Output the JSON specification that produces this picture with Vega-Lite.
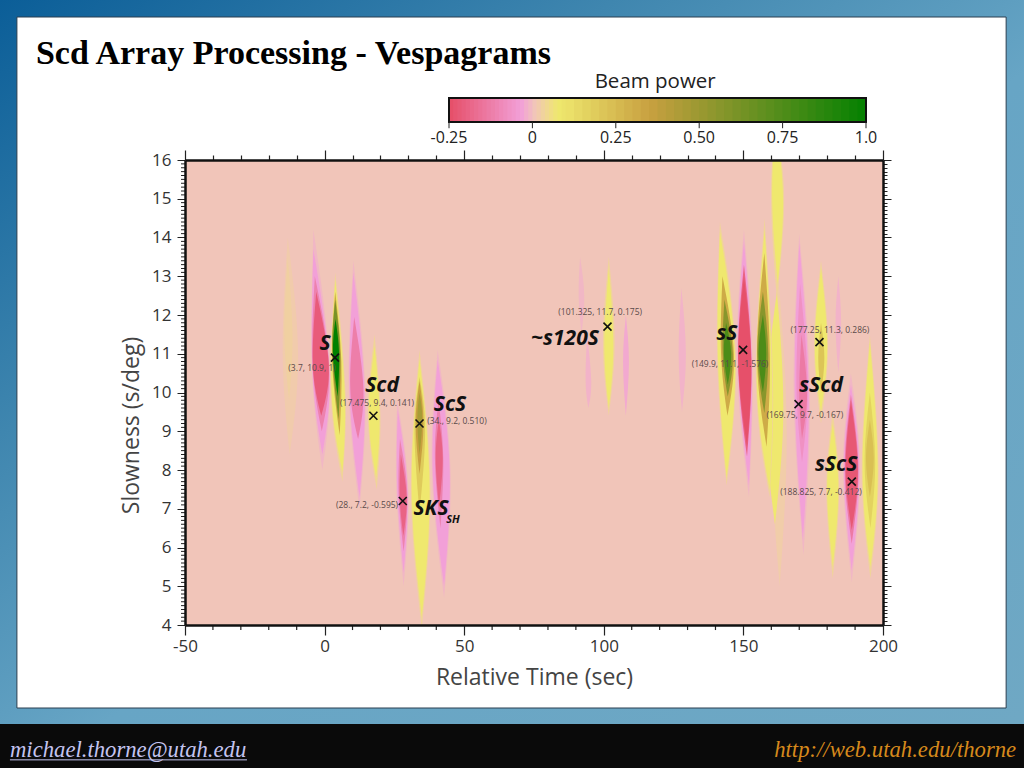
{"$schema":"https://vega.github.io/schema/vega-lite/v6.json","width":698,"height":465,"autosize":{"type":"none"},"padding":{"left":185,"top":160,"right":141,"bottom":143},"background":"#ffffff","config":{"view":{"stroke":null},"axis":{"grid":false}},
"datasets":{
"rings":[
{"ring":"A1","power":0.012,"s":8.4,"t0":-12.5,"t1":-12.5},{"ring":"A1","power":0.012,"s":11,"t0":-15,"t1":-9.5},{"ring":"A1","power":0.012,"s":14,"t0":-13.2,"t1":-13.2},
{"ring":"A2","power":0.022,"s":9.8,"t0":-12.7,"t1":-12.7},{"ring":"A2","power":0.022,"s":11.5,"t0":-14.4,"t1":-11.5},{"ring":"A2","power":0.022,"s":13.5,"t0":-13.2,"t1":-13.2},
{"ring":"S1","power":-0.015,"s":8,"t0":-0.8,"t1":-0.8},{"ring":"S1","power":-0.015,"s":10.6,"t0":-4.5,"t1":1.8},{"ring":"S1","power":-0.015,"s":14.2,"t0":-4,"t1":-4},
{"ring":"S2","power":-0.04,"s":8.4,"t0":-0.8,"t1":-0.8},{"ring":"S2","power":-0.04,"s":10.6,"t0":-4.4,"t1":1.7},{"ring":"S2","power":-0.04,"s":13.7,"t0":-4,"t1":-4},
{"ring":"S3","power":-0.12,"s":9,"t0":-1,"t1":-1},{"ring":"S3","power":-0.12,"s":10.7,"t0":-4.3,"t1":1.6},{"ring":"S3","power":-0.12,"s":13,"t0":-3.5,"t1":-3.5},
{"ring":"S4","power":-0.22,"s":9.4,"t0":-1.2,"t1":-1.2},{"ring":"S4","power":-0.22,"s":10.7,"t0":-4.2,"t1":1.5},{"ring":"S4","power":-0.22,"s":12.6,"t0":-3,"t1":-3},
{"ring":"G1","power":0.03,"s":7.7,"t0":6.4,"t1":6.4},{"ring":"G1","power":0.03,"s":10,"t0":2.2,"t1":7.5},{"ring":"G1","power":0.03,"s":13.1,"t0":3.8,"t1":3.8},
{"ring":"G2","power":0.07,"s":7.95,"t0":6.4,"t1":6.4},{"ring":"G2","power":0.07,"s":10,"t0":2.5,"t1":7.2},{"ring":"G2","power":0.07,"s":12.9,"t0":3.8,"t1":3.8},
{"ring":"G3","power":0.3,"s":8.9,"t0":5.4,"t1":5.4},{"ring":"G3","power":0.3,"s":10.8,"t0":2.7,"t1":6},{"ring":"G3","power":0.3,"s":12.6,"t0":3.8,"t1":3.8},
{"ring":"G4","power":0.6,"s":9.3,"t0":5,"t1":5},{"ring":"G4","power":0.6,"s":11,"t0":2.8,"t1":5.6},{"ring":"G4","power":0.6,"s":12.4,"t0":3.8,"t1":3.8},
{"ring":"G5","power":1,"s":9.9,"t0":4.7,"t1":4.7},{"ring":"G5","power":1,"s":11,"t0":3,"t1":5.2},{"ring":"G5","power":1,"s":11.9,"t0":3.9,"t1":3.9},
{"ring":"P1","power":-0.015,"s":7,"t0":12.5,"t1":12.5},{"ring":"P1","power":-0.015,"s":10,"t0":8.7,"t1":14.6},{"ring":"P1","power":-0.015,"s":13.4,"t0":10.3,"t1":10.3},
{"ring":"P2","power":-0.04,"s":7.3,"t0":12.5,"t1":12.5},{"ring":"P2","power":-0.04,"s":10,"t0":9,"t1":14.3},{"ring":"P2","power":-0.04,"s":13.1,"t0":10.3,"t1":10.3},
{"ring":"P3","power":-0.13,"s":8.8,"t0":12,"t1":12},{"ring":"P3","power":-0.13,"s":10.1,"t0":9.2,"t1":13.9},{"ring":"P3","power":-0.13,"s":11.95,"t0":10.6,"t1":10.6},
{"ring":"Y1","power":0.03,"s":7.5,"t0":18.7,"t1":18.7},{"ring":"Y1","power":0.03,"s":9.4,"t0":15.5,"t1":20},{"ring":"Y1","power":0.03,"s":11.5,"t0":17.9,"t1":17.9},
{"ring":"Y2","power":0.07,"s":7.8,"t0":18.5,"t1":18.5},{"ring":"Y2","power":0.07,"s":9.4,"t0":15.8,"t1":19.7},{"ring":"Y2","power":0.07,"s":11.2,"t0":17.9,"t1":17.9},
{"ring":"K1","power":-0.015,"s":5,"t0":28.3,"t1":28.3},{"ring":"K1","power":-0.015,"s":7.5,"t0":25.7,"t1":30},{"ring":"K1","power":-0.015,"s":9.8,"t0":26,"t1":26},
{"ring":"K2","power":-0.04,"s":5.35,"t0":28.3,"t1":28.3},{"ring":"K2","power":-0.04,"s":7.5,"t0":26,"t1":29.7},{"ring":"K2","power":-0.04,"s":9.55,"t0":26.2,"t1":26.2},
{"ring":"K3","power":-0.12,"s":5.9,"t0":28.3,"t1":28.3},{"ring":"K3","power":-0.12,"s":7.4,"t0":26.5,"t1":29.6},{"ring":"K3","power":-0.12,"s":8.8,"t0":27,"t1":27},
{"ring":"K4","power":-0.2,"s":6.3,"t0":28.2,"t1":28.2},{"ring":"K4","power":-0.2,"s":7.3,"t0":26.9,"t1":29.4},{"ring":"K4","power":-0.2,"s":8.4,"t0":27.3,"t1":27.3},
{"ring":"C1","power":0.03,"s":3.9,"t0":34.8,"t1":34.8},{"ring":"C1","power":0.03,"s":7.5,"t0":30.9,"t1":37.9},{"ring":"C1","power":0.03,"s":11.1,"t0":34,"t1":34},
{"ring":"C2","power":0.07,"s":4.2,"t0":34.8,"t1":34.8},{"ring":"C2","power":0.07,"s":7.5,"t0":31.2,"t1":37.6},{"ring":"C2","power":0.07,"s":10.85,"t0":34,"t1":34},
{"ring":"C3","power":0.18,"s":6.9,"t0":34,"t1":34},{"ring":"C3","power":0.18,"s":9,"t0":32.2,"t1":36},{"ring":"C3","power":0.18,"s":10.4,"t0":34,"t1":34},
{"ring":"C4","power":0.34,"s":7.9,"t0":34,"t1":34},{"ring":"C4","power":0.34,"s":9.2,"t0":32.6,"t1":35.4},{"ring":"C4","power":0.34,"s":10.3,"t0":34,"t1":34},
{"ring":"C5","power":0.45,"s":8.4,"t0":34,"t1":34},{"ring":"C5","power":0.45,"s":9.3,"t0":33.2,"t1":35},{"ring":"C5","power":0.45,"s":10,"t0":34,"t1":34},
{"ring":"R1","power":-0.015,"s":4.7,"t0":42.8,"t1":42.8},{"ring":"R1","power":-0.015,"s":8,"t0":38.4,"t1":45.1},{"ring":"R1","power":-0.015,"s":11.1,"t0":40.5,"t1":40.5},
{"ring":"R2","power":-0.04,"s":5,"t0":42.8,"t1":42.8},{"ring":"R2","power":-0.04,"s":8,"t0":38.7,"t1":44.8},{"ring":"R2","power":-0.04,"s":10.85,"t0":40.5,"t1":40.5},
{"ring":"R3","power":-0.12,"s":6.5,"t0":41.5,"t1":41.5},{"ring":"R3","power":-0.12,"s":8.3,"t0":39.5,"t1":42.5},{"ring":"R3","power":-0.12,"s":9.8,"t0":40.8,"t1":40.8},
{"ring":"R4","power":-0.2,"s":7.05,"t0":41,"t1":41},{"ring":"R4","power":-0.2,"s":8.3,"t0":39.8,"t1":42.3},{"ring":"R4","power":-0.2,"s":9.3,"t0":40.9,"t1":40.9},
{"ring":"M0","power":-0.015,"s":11.5,"t0":92,"t1":92},{"ring":"M0","power":-0.015,"s":12.5,"t0":91,"t1":93},{"ring":"M0","power":-0.015,"s":13.5,"t0":91.5,"t1":91.5},
{"ring":"M1","power":-0.02,"s":9.6,"t0":94.5,"t1":94.5},{"ring":"M1","power":-0.02,"s":10.3,"t0":93.5,"t1":95.5},{"ring":"M1","power":-0.02,"s":11.5,"t0":94,"t1":94},
{"ring":"M3","power":0.03,"s":9.4,"t0":101.8,"t1":101.8},{"ring":"M3","power":0.03,"s":11.3,"t0":99.7,"t1":103.9},{"ring":"M3","power":0.03,"s":13.5,"t0":101.8,"t1":101.8},
{"ring":"M4","power":0.07,"s":9.6,"t0":101.8,"t1":101.8},{"ring":"M4","power":0.07,"s":11.2,"t0":100.2,"t1":103.4},{"ring":"M4","power":0.07,"s":13.2,"t0":101.8,"t1":101.8},
{"ring":"M6","power":-0.03,"s":9.4,"t0":107.9,"t1":107.9},{"ring":"M6","power":-0.03,"s":10.8,"t0":106.9,"t1":109},{"ring":"M6","power":-0.03,"s":12,"t0":107.9,"t1":107.9},
{"ring":"M7","power":-0.02,"s":9.5,"t0":128,"t1":128},{"ring":"M7","power":-0.02,"s":11,"t0":126.8,"t1":129.4},{"ring":"M7","power":-0.02,"s":12.7,"t0":127.8,"t1":127.8},
{"ring":"L1","power":0.03,"s":7.6,"t0":144,"t1":144},{"ring":"L1","power":0.03,"s":10.9,"t0":140.6,"t1":147.3},{"ring":"L1","power":0.03,"s":14.4,"t0":141.6,"t1":141.6},
{"ring":"L2","power":0.07,"s":7.8,"t0":144,"t1":144},{"ring":"L2","power":0.07,"s":10.9,"t0":140.9,"t1":147},{"ring":"L2","power":0.07,"s":14.15,"t0":141.6,"t1":141.6},
{"ring":"L3","power":0.3,"s":9.4,"t0":144.3,"t1":144.3},{"ring":"L3","power":0.3,"s":11,"t0":142,"t1":146.6},{"ring":"L3","power":0.3,"s":13,"t0":142.5,"t1":142.5},
{"ring":"L4","power":0.55,"s":9.9,"t0":144.4,"t1":144.4},{"ring":"L4","power":0.55,"s":11,"t0":142.6,"t1":146.2},{"ring":"L4","power":0.55,"s":12.4,"t0":143.2,"t1":143.2},
{"ring":"L5","power":0.75,"s":10.2,"t0":144.4,"t1":144.4},{"ring":"L5","power":0.75,"s":11,"t0":143,"t1":145.6},{"ring":"L5","power":0.75,"s":11.8,"t0":143.8,"t1":143.8},
{"ring":"E1","power":-0.015,"s":7.3,"t0":152,"t1":152},{"ring":"E1","power":-0.015,"s":10.8,"t0":147.7,"t1":153.3},{"ring":"E1","power":-0.015,"s":14.2,"t0":150.2,"t1":150.2},
{"ring":"E2","power":-0.04,"s":7.6,"t0":152,"t1":152},{"ring":"E2","power":-0.04,"s":10.8,"t0":148,"t1":153},{"ring":"E2","power":-0.04,"s":13.9,"t0":150.2,"t1":150.2},
{"ring":"E3","power":-0.2,"s":8.35,"t0":151.3,"t1":151.3},{"ring":"E3","power":-0.2,"s":10.8,"t0":148.1,"t1":152.9},{"ring":"E3","power":-0.2,"s":13.3,"t0":150.2,"t1":150.2},
{"ring":"E4","power":-0.25,"s":8.6,"t0":151.3,"t1":151.3},{"ring":"E4","power":-0.25,"s":10.8,"t0":148.2,"t1":152.8},{"ring":"E4","power":-0.25,"s":13,"t0":150.2,"t1":150.2},
{"ring":"T0","power":0.015,"s":5,"t0":163,"t1":163},{"ring":"T0","power":0.015,"s":9,"t0":159.8,"t1":165.5},{"ring":"T0","power":0.015,"s":13,"t0":162.5,"t1":162.5},
{"ring":"T1","power":0.07,"s":6.6,"t0":161.3,"t1":161.3},{"ring":"T1","power":0.07,"s":9.5,"t0":158,"t1":164.3},{"ring":"T1","power":0.07,"s":12.6,"t0":162,"t1":162},
{"ring":"T2","power":0.03,"s":12.4,"t0":162,"t1":162},{"ring":"T2","power":0.03,"s":15,"t0":159.9,"t1":164.6},{"ring":"T2","power":0.03,"s":17,"t0":161.5,"t1":161.5},
{"ring":"T3","power":0.07,"s":12.8,"t0":162.3,"t1":162.3},{"ring":"T3","power":0.07,"s":15,"t0":160.3,"t1":164.2},{"ring":"T3","power":0.07,"s":17,"t0":161.5,"t1":161.5},
{"ring":"H1","power":0.03,"s":7.3,"t0":159.4,"t1":159.4},{"ring":"H1","power":0.03,"s":10.3,"t0":154.5,"t1":160.6},{"ring":"H1","power":0.03,"s":14.5,"t0":157.6,"t1":157.6},
{"ring":"H2","power":0.07,"s":7.5,"t0":159.4,"t1":159.4},{"ring":"H2","power":0.07,"s":10.3,"t0":154.8,"t1":160.3},{"ring":"H2","power":0.07,"s":14.2,"t0":157.6,"t1":157.6},
{"ring":"H3","power":0.3,"s":8.6,"t0":158.3,"t1":158.3},{"ring":"H3","power":0.3,"s":10.9,"t0":154.9,"t1":159.5},{"ring":"H3","power":0.3,"s":13.6,"t0":157.5,"t1":157.5},
{"ring":"H4","power":0.55,"s":9.47,"t0":157.5,"t1":157.5},{"ring":"H4","power":0.55,"s":11,"t0":155,"t1":158.9},{"ring":"H4","power":0.55,"s":12.6,"t0":157,"t1":157},
{"ring":"H5","power":0.75,"s":10,"t0":157,"t1":157},{"ring":"H5","power":0.75,"s":11,"t0":155.4,"t1":158.2},{"ring":"H5","power":0.75,"s":12,"t0":157,"t1":157},
{"ring":"D1","power":-0.015,"s":5.8,"t0":171.5,"t1":171.5},{"ring":"D1","power":-0.015,"s":10,"t0":168,"t1":173.8},{"ring":"D1","power":-0.015,"s":14.1,"t0":170,"t1":170},
{"ring":"D2","power":-0.04,"s":6.2,"t0":171.3,"t1":171.3},{"ring":"D2","power":-0.04,"s":10,"t0":168.4,"t1":173.4},{"ring":"D2","power":-0.04,"s":13.85,"t0":170,"t1":170},
{"ring":"D3","power":-0.08,"s":8.2,"t0":171,"t1":171},{"ring":"D3","power":-0.08,"s":10.2,"t0":169,"t1":173},{"ring":"D3","power":-0.08,"s":12.8,"t0":170.3,"t1":170.3},
{"ring":"D4","power":-0.14,"s":8.8,"t0":171,"t1":171},{"ring":"D4","power":-0.14,"s":10,"t0":170,"t1":172.8},{"ring":"D4","power":-0.14,"s":11.5,"t0":170.8,"t1":170.8},
{"ring":"Q1","power":0.03,"s":9.2,"t0":177.8,"t1":177.8},{"ring":"Q1","power":0.03,"s":11.2,"t0":175.3,"t1":180.3},{"ring":"Q1","power":0.03,"s":13.4,"t0":177.8,"t1":177.8},
{"ring":"Q2","power":0.07,"s":9.5,"t0":177.8,"t1":177.8},{"ring":"Q2","power":0.07,"s":11.2,"t0":175.6,"t1":180},{"ring":"Q2","power":0.07,"s":13.2,"t0":177.8,"t1":177.8},
{"ring":"Q3","power":0.2,"s":10,"t0":177.8,"t1":177.8},{"ring":"Q3","power":0.2,"s":10.9,"t0":176.8,"t1":179},{"ring":"Q3","power":0.2,"s":11.8,"t0":177.8,"t1":177.8},
{"ring":"F1","power":-0.02,"s":10.5,"t0":184,"t1":184},{"ring":"F1","power":-0.02,"s":11.8,"t0":183,"t1":185},{"ring":"F1","power":-0.02,"s":13,"t0":184,"t1":184},
{"ring":"Z1","power":0.03,"s":5.2,"t0":182,"t1":182},{"ring":"Z1","power":0.03,"s":7.5,"t0":179.7,"t1":184.3},{"ring":"Z1","power":0.03,"s":9.5,"t0":182,"t1":182},
{"ring":"Z2","power":0.07,"s":5.5,"t0":182,"t1":182},{"ring":"Z2","power":0.07,"s":7.5,"t0":180,"t1":184},{"ring":"Z2","power":0.07,"s":9.2,"t0":182,"t1":182},
{"ring":"V1","power":-0.015,"s":5.1,"t0":188.8,"t1":188.8},{"ring":"V1","power":-0.015,"s":8,"t0":185.7,"t1":191.8},{"ring":"V1","power":-0.015,"s":10.5,"t0":188.5,"t1":188.5},
{"ring":"V2","power":-0.04,"s":5.4,"t0":188.8,"t1":188.8},{"ring":"V2","power":-0.04,"s":8,"t0":186,"t1":191.5},{"ring":"V2","power":-0.04,"s":10.2,"t0":188.5,"t1":188.5},
{"ring":"V3","power":-0.14,"s":6.1,"t0":188.8,"t1":188.8},{"ring":"V3","power":-0.14,"s":8,"t0":186.3,"t1":191.2},{"ring":"V3","power":-0.14,"s":9.95,"t0":188.5,"t1":188.5},
{"ring":"V4","power":-0.23,"s":6.45,"t0":188.8,"t1":188.8},{"ring":"V4","power":-0.23,"s":8,"t0":186.6,"t1":191},{"ring":"V4","power":-0.23,"s":9.8,"t0":188.5,"t1":188.5},
{"ring":"W1","power":0.03,"s":5.2,"t0":195.5,"t1":195.5},{"ring":"W1","power":0.03,"s":8,"t0":192.4,"t1":198.4},{"ring":"W1","power":0.03,"s":11.5,"t0":195.3,"t1":195.3},
{"ring":"W2","power":0.07,"s":5.5,"t0":195.5,"t1":195.5},{"ring":"W2","power":0.07,"s":8,"t0":192.7,"t1":198.1},{"ring":"W2","power":0.07,"s":11.3,"t0":195.3,"t1":195.3},
{"ring":"W3","power":0.15,"s":6.5,"t0":195.5,"t1":195.5},{"ring":"W3","power":0.15,"s":8.2,"t0":193.4,"t1":197.2},{"ring":"W3","power":0.15,"s":10,"t0":195.3,"t1":195.3},
{"ring":"W4","power":0.22,"s":7.3,"t0":195.3,"t1":195.3},{"ring":"W4","power":0.22,"s":8.3,"t0":193.9,"t1":196.7},{"ring":"W4","power":0.22,"s":9.3,"t0":195.3,"t1":195.3}
],
"picks":[{"t":3.7,"s":10.9},{"t":17.475,"s":9.4},{"t":34,"s":9.2},{"t":28,"s":7.2},{"t":101.325,"s":11.7},{"t":149.9,"s":11.1},{"t":177.25,"s":11.3},{"t":169.75,"s":9.7},{"t":188.825,"s":7.7}],
"phases":[{"t":0.15,"s":11.25,"label":"S"},{"t":20.6,"s":10.17,"label":"Scd"},{"t":44.9,"s":9.68,"label":"ScS"},{"t":38.1,"s":7,"label":"SKS"},{"t":86.1,"s":11.38,"label":"~s120S"},{"t":144.1,"s":11.51,"label":"sS"},{"t":177.8,"s":10.17,"label":"sScd"},{"t":183.2,"s":8.13,"label":"sScS"}],
"notes":[{"t":-4.5,"s":10.63,"label":"(3.7, 10.9, 1)"},{"t":18.8,"s":9.73,"label":"(17.475, 9.4, 0.141)"},{"t":47.4,"s":9.26,"label":"(34., 9.2, 0.510)"},{"t":15.2,"s":7.1,"label":"(28., 7.2, -0.595)"},{"t":98.7,"s":12.08,"label":"(101.325, 11.7, 0.175)"},{"t":145.2,"s":10.74,"label":"(149.9, 11.1, -1.576)"},{"t":181,"s":11.61,"label":"(177.25, 11.3, 0.286)"},{"t":172,"s":9.42,"label":"(169.75, 9.7, -0.167)"},{"t":177.8,"s":7.43,"label":"(188.825, 7.7, -0.412)"}],
"minorT":[{"t":-40},{"t":-30},{"t":-20},{"t":-10},{"t":10},{"t":20},{"t":30},{"t":40},{"t":60},{"t":70},{"t":80},{"t":90},{"t":110},{"t":120},{"t":130},{"t":140},{"t":160},{"t":170},{"t":180},{"t":190}],
"minorS":[{"s":4.2},{"s":4.4},{"s":4.6},{"s":4.8},{"s":5.2},{"s":5.4},{"s":5.6},{"s":5.8},{"s":6.2},{"s":6.4},{"s":6.6},{"s":6.8},{"s":7.2},{"s":7.4},{"s":7.6},{"s":7.8},{"s":8.2},{"s":8.4},{"s":8.6},{"s":8.8},{"s":9.2},{"s":9.4},{"s":9.6},{"s":9.8},{"s":10.2},{"s":10.4},{"s":10.6},{"s":10.8},{"s":11.2},{"s":11.4},{"s":11.6},{"s":11.8},{"s":12.2},{"s":12.4},{"s":12.6},{"s":12.8},{"s":13.2},{"s":13.4},{"s":13.6},{"s":13.8},{"s":14.2},{"s":14.4},{"s":14.6},{"s":14.8},{"s":15.2},{"s":15.4},{"s":15.6},{"s":15.8},{"s":4.1},{"s":4.3},{"s":4.5},{"s":4.7},{"s":4.9},{"s":5.1},{"s":5.3},{"s":5.5},{"s":5.7},{"s":5.9},{"s":6.1},{"s":6.3},{"s":6.5},{"s":6.7},{"s":6.9},{"s":7.1},{"s":7.3},{"s":7.5},{"s":7.7},{"s":7.9},{"s":8.1},{"s":8.3},{"s":8.5},{"s":8.7},{"s":8.9},{"s":9.1},{"s":9.3},{"s":9.5},{"s":9.7},{"s":9.9},{"s":10.1},{"s":10.3},{"s":10.5},{"s":10.7},{"s":10.9},{"s":11.1},{"s":11.3},{"s":11.5},{"s":11.7},{"s":11.9},{"s":12.1},{"s":12.3},{"s":12.5},{"s":12.7},{"s":12.9},{"s":13.1},{"s":13.3},{"s":13.5},{"s":13.7},{"s":13.9},{"s":14.1},{"s":14.3},{"s":14.5},{"s":14.7},{"s":14.9},{"s":15.1},{"s":15.3},{"s":15.5},{"s":15.7},{"s":15.9}],
"barTicks":[{"v":-0.25,"label":"-0.25"},{"v":0,"label":"0"},{"v":0.25,"label":"0.25"},{"v":0.5,"label":"0.50"},{"v":0.75,"label":"0.75"},{"v":1,"label":"1.0"}],
"bar":[{"p":-0.25,"e":-0.23},{"p":-0.2375,"e":-0.22},{"p":-0.225,"e":-0.205},{"p":-0.2125,"e":-0.195},{"p":-0.2,"e":-0.18},{"p":-0.1875,"e":-0.17},{"p":-0.175,"e":-0.155},{"p":-0.1625,"e":-0.145},{"p":-0.15,"e":-0.13},{"p":-0.1375,"e":-0.12},{"p":-0.125,"e":-0.105},{"p":-0.1125,"e":-0.095},{"p":-0.1,"e":-0.08},{"p":-0.0875,"e":-0.07},{"p":-0.075,"e":-0.055},{"p":-0.0625,"e":-0.045},{"p":-0.05,"e":-0.03},{"p":-0.0375,"e":-0.02},{"p":-0.025,"e":-0.005},{"p":-0.0125,"e":0.005},{"p":0,"e":0.02},{"p":0.0125,"e":0.03},{"p":0.025,"e":0.045},{"p":0.0375,"e":0.055},{"p":0.05,"e":0.07},{"p":0.0625,"e":0.08},{"p":0.075,"e":0.095},{"p":0.0875,"e":0.105},{"p":0.1,"e":0.13},{"p":0.125,"e":0.155},{"p":0.15,"e":0.18},{"p":0.175,"e":0.205},{"p":0.2,"e":0.23},{"p":0.225,"e":0.255},{"p":0.25,"e":0.28},{"p":0.275,"e":0.305},{"p":0.3,"e":0.33},{"p":0.325,"e":0.355},{"p":0.35,"e":0.38},{"p":0.375,"e":0.405},{"p":0.4,"e":0.43},{"p":0.425,"e":0.455},{"p":0.45,"e":0.48},{"p":0.475,"e":0.505},{"p":0.5,"e":0.53},{"p":0.525,"e":0.555},{"p":0.55,"e":0.58},{"p":0.575,"e":0.605},{"p":0.6,"e":0.63},{"p":0.625,"e":0.655},{"p":0.65,"e":0.68},{"p":0.675,"e":0.705},{"p":0.7,"e":0.73},{"p":0.725,"e":0.755},{"p":0.75,"e":0.78},{"p":0.775,"e":0.805},{"p":0.8,"e":0.83},{"p":0.825,"e":0.855},{"p":0.85,"e":0.88},{"p":0.875,"e":0.905},{"p":0.9,"e":0.93},{"p":0.925,"e":0.955},{"p":0.95,"e":0.98},{"p":0.975,"e":1}]
},
"layer":[
{"layer":[
{"data":{"values":[{"a":-116.27,"b":250.5,"c":1.445,"d":20.129}]},"mark":{"type":"rect","fill":{"gradient":"linear","x1":0,"y1":0,"x2":1,"y2":1,"stops":[{"offset":0,"color":"#0b5e98"},{"offset":0.3,"color":"#3f86af"},{"offset":0.55,"color":"#67a5c5"},{"offset":1,"color":"#6fa8c4"}]}},
"encoding":{"x":{"field":"a","type":"quantitative","scale":{"domain":[-50,200],"nice":false,"zero":false},"axis":null},"x2":{"field":"b"},"y":{"field":"c","type":"quantitative","scale":{"domain":[4,16],"nice":false,"zero":false},"axis":null},"y2":{"field":"d"}}},
{"data":{"values":[{"a":-116.27,"b":250.5,"c":0.31,"d":1.445}]},"mark":{"type":"rect","fill":"#0a0a0a"},
"encoding":{"x":{"field":"a","type":"quantitative","scale":{"domain":[-50,200],"nice":false,"zero":false},"axis":null},"x2":{"field":"b"},"y":{"field":"c","type":"quantitative","scale":{"domain":[4,16],"nice":false,"zero":false},"axis":null},"y2":{"field":"d"}}},
{"data":{"values":[{"a":-110.2,"b":244.1,"c":1.858,"d":19.69}]},"mark":{"type":"rect","fill":"#ffffff","stroke":"#2b3f50","strokeWidth":1},
"encoding":{"x":{"field":"a","type":"quantitative","scale":{"domain":[-50,200],"nice":false,"zero":false},"axis":null},"x2":{"field":"b"},"y":{"field":"c","type":"quantitative","scale":{"domain":[4,16],"nice":false,"zero":false},"axis":null},"y2":{"field":"d"}}},
{"data":{"values":[{"a":-50,"b":200,"c":4,"d":16}]},"mark":{"type":"rect","fill":"#f1c5b9"},
"encoding":{"x":{"field":"a","type":"quantitative","scale":{"domain":[-50,200],"nice":false,"zero":false},"title":"Relative Time (sec)","axis":{"orient":"bottom","values":[-50,0,50,100,150,200],"labelExpr":"toString(datum.value)","labelFlush":false,"labelOverlap":false,"labelBound":false,"labelFont":"Open Sans","labelFontSize":17,"labelColor":"#333333","labelPadding":3,"tickColor":"#222222","tickWidth":1.2,"tickSize":10,"domainColor":"#111111","domainWidth":2.5,"titleFont":"Open Sans","titleFontWeight":"normal","titleFontSize":23,"titleColor":"#444444","titlePadding":12,"zindex":1}},"x2":{"field":"b"},
"y":{"field":"c","type":"quantitative","scale":{"domain":[4,16],"nice":false,"zero":false},"title":"Slowness (s/deg)","axis":{"orient":"left","values":[4,5,6,7,8,9,10,11,12,13,14,15,16],"labelFlush":false,"labelOverlap":false,"labelBound":false,"labelFont":"Open Sans","labelFontSize":17,"labelColor":"#333333","labelPadding":6,"tickColor":"#222222","tickWidth":1,"tickSize":8,"domainColor":"#111111","domainWidth":2.5,"titleFont":"Open Sans","titleFontWeight":"normal","titleFontSize":23,"titleColor":"#444444","titleX":-42,"titleY":265,"zindex":1}},"y2":{"field":"d"}}},
{"data":{"name":"rings"},"mark":{"type":"area","orient":"horizontal","interpolate":"natural","clip":true},
"encoding":{"x":{"field":"t0","type":"quantitative","scale":{"domain":[-50,200],"nice":false,"zero":false},"axis":{"orient":"top","values":[-50,-40,-30,-20,-10,0,10,20,30,40,50,60,70,80,90,100,110,120,130,140,150,160,170,180,190,200],"labels":false,"title":null,"tickColor":"#222222","tickWidth":1.2,"tickSize":{"condition":{"test":"datum.value % 50 == 0","value":10},"value":5},"domainColor":"#111111","domainWidth":2.5,"zindex":1}},"x2":{"field":"t1"},"y":{"field":"s","type":"quantitative","scale":{"domain":[4,16],"nice":false,"zero":false},"axis":{"orient":"right","values":[4,4.1,4.2,4.3,4.4,4.5,4.6,4.7,4.8,4.9,5,5.1,5.2,5.3,5.4,5.5,5.6,5.7,5.8,5.9,6,6.1,6.2,6.3,6.4,6.5,6.6,6.7,6.8,6.9,7,7.1,7.2,7.3,7.4,7.5,7.6,7.7,7.8,7.9,8,8.1,8.2,8.3,8.4,8.5,8.6,8.7,8.8,8.9,9,9.1,9.2,9.3,9.4,9.5,9.6,9.7,9.8,9.9,10,10.1,10.2,10.3,10.4,10.5,10.6,10.7,10.8,10.9,11,11.1,11.2,11.3,11.4,11.5,11.6,11.7,11.8,11.9,12,12.1,12.2,12.3,12.4,12.5,12.6,12.7,12.8,12.9,13,13.1,13.2,13.3,13.4,13.5,13.6,13.7,13.8,13.9,14,14.1,14.2,14.3,14.4,14.5,14.6,14.7,14.8,14.9,15,15.1,15.2,15.3,15.4,15.5,15.6,15.7,15.8,15.9,16],"labels":false,"title":null,"tickColor":"#222222","tickWidth":1,"tickSize":{"condition":{"test":"datum.value % 1 == 0","value":8},"value":4},"domainColor":"#111111","domainWidth":2.5,"zindex":1}},"detail":{"field":"ring"},"color":{"field":"power","type":"quantitative","legend":null,"scale":{"domain":[-0.25,-0.04,0,0.07,0.34,1],"range":["#e6506a","#f2a0d8","#f1c5b9","#efe86e","#c8a040","#008000"],"interpolate":"rgb"}}}},
{"data":{"name":"minorT"},"mark":{"type":"rule","color":"#222222","strokeWidth":1.2},
"encoding":{"x":{"field":"t","type":"quantitative","scale":{"domain":[-50,200],"nice":false,"zero":false}},"y":{"datum":4,"type":"quantitative","scale":{"domain":[4,16],"nice":false,"zero":false}},"y2":{"datum":3.87}}},
{"data":{"name":"minorS"},"mark":{"type":"rule","color":"#222222","strokeWidth":1},
"encoding":{"y":{"field":"s","type":"quantitative","scale":{"domain":[4,16],"nice":false,"zero":false}},"x":{"datum":-50,"type":"quantitative","scale":{"domain":[-50,200],"nice":false,"zero":false}},"x2":{"datum":-51.43}}},
{"data":{"name":"picks"},"mark":{"type":"point","shape":"M-1,-1L1,1M-1,1L1,-1","filled":false,"stroke":"#111111","strokeWidth":1.6,"size":64,"opacity":1},
"encoding":{"x":{"field":"t","type":"quantitative","scale":{"domain":[-50,200],"nice":false,"zero":false}},"y":{"field":"s","type":"quantitative","scale":{"domain":[4,16],"nice":false,"zero":false}}}},
{"data":{"name":"phases"},"mark":{"type":"text","font":"Open Sans","fontStyle":"italic","fontWeight":"bold","fontSize":21,"color":"#111111","align":"center","baseline":"middle"},
"encoding":{"x":{"field":"t","type":"quantitative","scale":{"domain":[-50,200],"nice":false,"zero":false}},"y":{"field":"s","type":"quantitative","scale":{"domain":[4,16],"nice":false,"zero":false}},"text":{"field":"label"}}},
{"data":{"values":[{"t":46,"s":6.71,"label":"SH"}]},"mark":{"type":"text","font":"Open Sans","fontStyle":"italic","fontWeight":"bold","fontSize":11,"color":"#111111","align":"center","baseline":"middle"},
"encoding":{"x":{"field":"t","type":"quantitative","scale":{"domain":[-50,200],"nice":false,"zero":false}},"y":{"field":"s","type":"quantitative","scale":{"domain":[4,16],"nice":false,"zero":false}},"text":{"field":"label"}}},
{"data":{"name":"notes"},"mark":{"type":"text","font":"Open Sans","fontSize":8.5,"color":"#5a4a4a","align":"center","baseline":"middle"},
"encoding":{"x":{"field":"t","type":"quantitative","scale":{"domain":[-50,200],"nice":false,"zero":false}},"y":{"field":"s","type":"quantitative","scale":{"domain":[4,16],"nice":false,"zero":false}},"text":{"field":"label"}}},
{"data":{"values":[{"t":-103.4,"s":18.48,"label":"Scd Array Processing - Vespagrams"}]},"mark":{"type":"text","font":"Liberation Serif","fontWeight":"bold","fontSize":34,"color":"#000000","align":"left","baseline":"alphabetic"},
"encoding":{"x":{"field":"t","type":"quantitative","scale":{"domain":[-50,200],"nice":false,"zero":false}},"y":{"field":"s","type":"quantitative","scale":{"domain":[4,16],"nice":false,"zero":false}},"text":{"field":"label"}}},
{"data":{"values":[{"t":118.4,"s":17.86,"label":"Beam power"}]},"mark":{"type":"text","font":"Open Sans","fontSize":20.5,"color":"#222222","align":"center","baseline":"alphabetic"},
"encoding":{"x":{"field":"t","type":"quantitative","scale":{"domain":[-50,200],"nice":false,"zero":false}},"y":{"field":"s","type":"quantitative","scale":{"domain":[4,16],"nice":false,"zero":false}},"text":{"field":"label"}}},
{"data":{"values":[{"t":-112.7,"s":0.59,"label":"michael.thorne@utah.edu"}]},"mark":{"type":"text","font":"Liberation Serif","fontStyle":"italic","fontSize":22.7,"color":"#c4c4f0","align":"left","baseline":"alphabetic"},
"encoding":{"x":{"field":"t","type":"quantitative","scale":{"domain":[-50,200],"nice":false,"zero":false}},"y":{"field":"s","type":"quantitative","scale":{"domain":[4,16],"nice":false,"zero":false}},"text":{"field":"label"}}},
{"data":{"values":[{"a":-112.7,"b":-27.8,"s":0.52}]},"mark":{"type":"rule","color":"#c4c4f0","strokeWidth":1},
"encoding":{"x":{"field":"a","type":"quantitative","scale":{"domain":[-50,200],"nice":false,"zero":false}},"x2":{"field":"b"},"y":{"field":"s","type":"quantitative","scale":{"domain":[4,16],"nice":false,"zero":false}}}},
{"data":{"values":[{"t":247.7,"s":0.59,"label":"http://web.utah.edu/thorne"}]},"mark":{"type":"text","font":"Liberation Serif","fontStyle":"italic","fontSize":22.7,"color":"#d6891c","align":"right","baseline":"alphabetic"},
"encoding":{"x":{"field":"t","type":"quantitative","scale":{"domain":[-50,200],"nice":false,"zero":false}},"y":{"field":"s","type":"quantitative","scale":{"domain":[4,16],"nice":false,"zero":false}},"text":{"field":"label"}}}
]},
{"layer":[
{"data":{"name":"bar"},"mark":{"type":"rect"},
"encoding":{"x":{"field":"p","type":"quantitative","scale":{"domain":[-0.25,1],"range":[264,681],"nice":false,"zero":false},"axis":null},"x2":{"field":"e"},"y":{"datum":16.98,"type":"quantitative","scale":{"domain":[4,16],"nice":false,"zero":false},"axis":null},"y2":{"datum":17.6},"color":{"field":"p","type":"quantitative","legend":null,"scale":{"domain":[-0.25,-0.04,0,0.07,0.34,1],"range":["#e6506a","#f2a0d8","#f1c5b9","#efe86e","#c8a040","#008000"],"interpolate":"rgb"}}}},
{"data":{"values":[{"a":-0.25,"b":1}]},"mark":{"type":"rect","fillOpacity":0,"stroke":"#111111","strokeWidth":2},
"encoding":{"x":{"field":"a","type":"quantitative","scale":{"domain":[-0.25,1],"range":[264,681],"nice":false,"zero":false},"axis":null},"x2":{"field":"b"},"y":{"datum":16.98,"type":"quantitative","scale":{"domain":[4,16],"nice":false,"zero":false},"axis":null},"y2":{"datum":17.6}}},
{"data":{"name":"barTicks"},"mark":{"type":"rule","color":"#222222","strokeWidth":1},
"encoding":{"x":{"field":"v","type":"quantitative","scale":{"domain":[-0.25,1],"range":[264,681],"nice":false,"zero":false},"axis":null},"y":{"datum":16.98,"type":"quantitative","scale":{"domain":[4,16],"nice":false,"zero":false},"axis":null},"y2":{"datum":16.82}}},
{"data":{"name":"barTicks"},"mark":{"type":"text","font":"Open Sans","fontSize":16,"color":"#222222","align":"center","baseline":"middle"},
"encoding":{"x":{"field":"v","type":"quantitative","scale":{"domain":[-0.25,1],"range":[264,681],"nice":false,"zero":false},"axis":null},"y":{"datum":16.57,"type":"quantitative","scale":{"domain":[4,16],"nice":false,"zero":false},"axis":null},"text":{"field":"label"}}}
]}
],
"resolve":{"scale":{"x":"independent"},"axis":{"x":"independent"}}}
